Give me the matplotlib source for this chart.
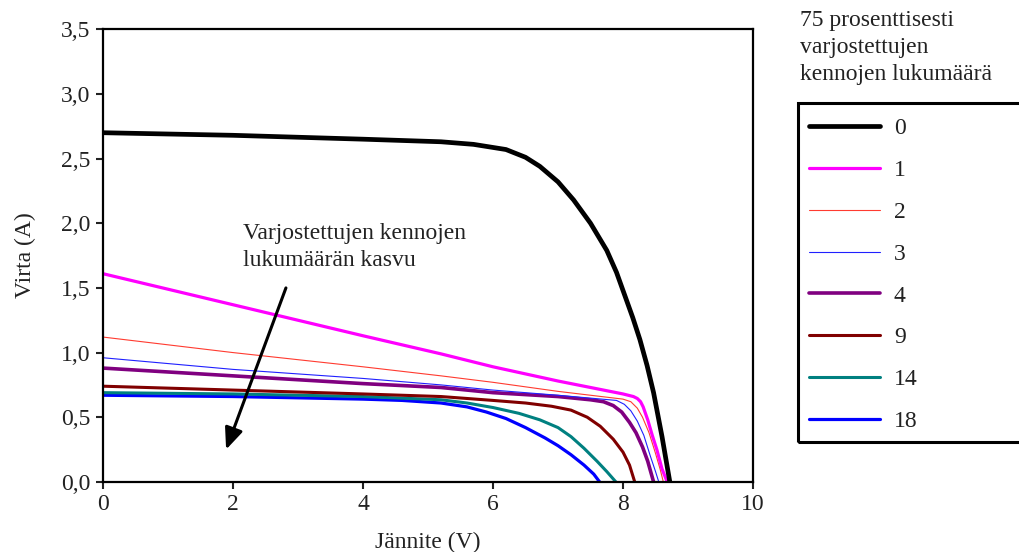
import matplotlib
matplotlib.use("Agg")
import matplotlib.pyplot as plt
from matplotlib.patches import Rectangle
from matplotlib.ticker import FuncFormatter

plt.rcParams['font.family'] = ['Liberation Serif', 'DejaVu Serif']

labels = ["0", "1", "2", "3", "4", "9", "14", "18"]
colors = ["#000000", "#ff00ff", "#ff3b30", "#2020ff", "#800080", "#800000", "#008080", "#0000ff"]
widths = [3.4, 2.3, 0.8, 0.8, 2.6, 2.2, 2.2, 2.3]

v0 = [0, 2, 4, 5.2, 5.7, 6.2, 6.5, 6.72, 7.0, 7.24, 7.5, 7.75, 7.9, 8.05, 8.15, 8.26, 8.37, 8.47, 8.6, 8.72]
i0 = [2.70, 2.68, 2.65, 2.63, 2.61, 2.57, 2.51, 2.44, 2.32, 2.18, 2.00, 1.79, 1.62, 1.41, 1.27, 1.10, 0.90, 0.69, 0.35, 0.0]

v1 = [0, 2, 4, 5.2, 6, 7, 8, 8.16, 8.22, 8.27, 8.31, 8.38, 8.45, 8.52, 8.6, 8.68]
i1 = [1.61, 1.37, 1.13, 0.99, 0.89, 0.78, 0.68, 0.66, 0.645, 0.62, 0.58, 0.48, 0.36, 0.25, 0.10, 0.0]

v2 = [0, 2, 4, 5.2, 6, 7, 8, 8.12, 8.22, 8.3, 8.4, 8.5, 8.57, 8.62]
i2 = [1.12, 1.00, 0.89, 0.82, 0.77, 0.70, 0.64, 0.62, 0.57, 0.50, 0.38, 0.22, 0.10, 0.0]

v3 = [0, 2, 4, 5.2, 6, 7, 7.9, 8.02, 8.12, 8.22, 8.32, 8.42, 8.5, 8.55]
i3 = [0.96, 0.87, 0.80, 0.75, 0.71, 0.67, 0.63, 0.60, 0.55, 0.47, 0.36, 0.20, 0.08, 0.0]

v4 = [0, 2, 4, 5.2, 6, 7, 7.5, 7.7, 7.85, 7.98, 8.1, 8.2, 8.3, 8.38, 8.47]
i4 = [0.88, 0.82, 0.76, 0.73, 0.69, 0.66, 0.635, 0.62, 0.59, 0.54, 0.46, 0.38, 0.27, 0.16, 0.0]

v9 = [0, 2, 4, 5.2, 6, 6.5, 6.9, 7.2, 7.45, 7.65, 7.85, 8.0, 8.1, 8.18]
i9 = [0.74, 0.71, 0.68, 0.66, 0.63, 0.61, 0.585, 0.555, 0.50, 0.43, 0.33, 0.23, 0.13, 0.0]

v14 = [0, 2, 4, 5.2, 5.6, 6.0, 6.4, 6.72, 7.0, 7.2, 7.4, 7.6, 7.75, 7.89]
i14 = [0.69, 0.68, 0.66, 0.635, 0.61, 0.575, 0.53, 0.48, 0.42, 0.35, 0.26, 0.16, 0.08, 0.0]

v18 = [0, 2, 4, 4.6, 5.2, 5.6, 5.9, 6.2, 6.5, 6.8, 7.0, 7.2, 7.4, 7.55, 7.64]
i18 = [0.67, 0.66, 0.64, 0.63, 0.61, 0.58, 0.54, 0.49, 0.42, 0.34, 0.28, 0.21, 0.13, 0.06, 0.0]

series = [(v0, i0), (v1, i1), (v2, i2), (v3, i3), (v4, i4), (v9, i9), (v14, i14), (v18, i18)]

FS = 17
TXT = '#222222'

fig = plt.figure(figsize=(10.19, 5.52), dpi=100)
ax = fig.add_axes([0.101, 0.127, 0.638, 0.82])

handles = []
for (v, i), c, w, lab in zip(series[::-1], colors[::-1], widths[::-1], labels[::-1]):
    h, = ax.plot(v, i, color=c, lw=w, label=lab, solid_capstyle='round', solid_joinstyle='round')
    handles.append(h)
handles = handles[::-1]

ax.set_xlim(0, 10)
ax.set_ylim(0, 3.5)
ax.set_xticks([0, 2, 4, 6, 8, 10])
ax.set_yticks([0, 0.5, 1, 1.5, 2, 2.5, 3, 3.5])
ax.yaxis.set_major_formatter(FuncFormatter(lambda y, p: f"{y:.1f}".replace('.', ',')))
ax.tick_params(direction='out', length=5, width=1.5, labelsize=FS, colors=TXT, top=False, right=False, pad=4)
for s in ax.spines.values():
    s.set_linewidth(1.6)
ax.set_xlabel("Jännite (V)", fontsize=FS, color=TXT, labelpad=12)
ax.set_ylabel("Virta (A)", fontsize=FS, color=TXT, labelpad=18)

ax.text(2.15, 2.0, "Varjostettujen kennojen\nlukumäärän kasvu", fontsize=FS, ha='left', va='top',
        color=TXT, linespacing=1.35)
ax.annotate("", xy=(1.88, 0.23), xytext=(2.83, 1.52),
            arrowprops=dict(arrowstyle='-|>,head_length=1.3,head_width=0.55', color='black', lw=2.2))

fig.text(800 / 1019, 1 - 10 / 552, "75 prosenttisesti\nvarjostettujen\nkennojen lukumäärä",
         fontsize=FS, ha='left', va='top', color=TXT, linespacing=1.38)

fig.patches.append(Rectangle((798 / 1019, 1 - 442 / 552), 0.3, (442 - 103) / 552,
                             transform=fig.transFigure, fill=False, edgecolor='black', lw=2.2))

fig.legend(handles, labels, loc='upper left', bbox_to_anchor=(797 / 1019, 1 - 106 / 552),
           frameon=False, fontsize=FS, handlelength=3.0, handletextpad=0.6,
           labelspacing=0.86, borderaxespad=0, borderpad=0.5, labelcolor=TXT)

fig.savefig("out.png", dpi=100)
